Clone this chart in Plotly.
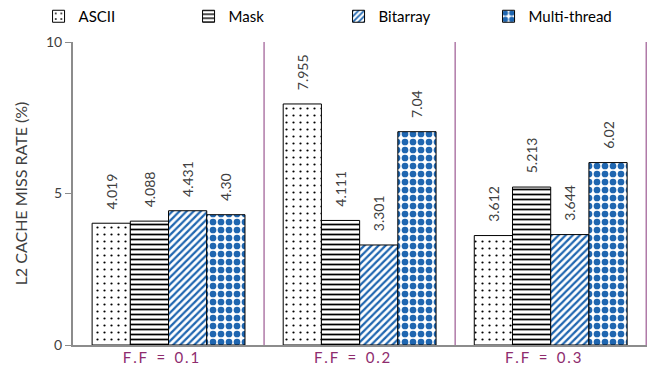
import plotly.graph_objects as go

categories = ["F.F = 0.1", "F.F = 0.2", "F.F = 0.3"]
series_names = ["ASCII", "Mask", "Bitarray", "Multi-thread"]
ascii_vals = [4.019, 7.955, 3.612]
mask_vals = [4.088, 4.111, 5.213]
bitarray_vals = [4.431, 3.301, 3.644]
multithread_vals = [4.30, 7.04, 6.02]
ascii_text = ["4.019", "7.955", "3.612"]
mask_text = ["4.088", "4.111", "5.213"]
bitarray_text = ["4.431", "3.301", "3.644"]
multithread_text = ["4.30", "7.04", "6.02"]
y_ticks = [0, 5, 10]

FONT = "Lato, 'Open Sans', sans-serif"
BLUE = "#1F66B0"

styles = [
    dict(shape=".", fgcolor="#000000", bgcolor="#FFFFFF", size=7, solidity=0.08),
    dict(shape="-", fgcolor="#000000", bgcolor="#FFFFFF", size=5, solidity=0.35),
    dict(shape="/", fgcolor=BLUE, bgcolor="#FFFFFF", size=5, solidity=0.45),
    dict(shape=".", fgcolor=BLUE, bgcolor="#FFFFFF", size=8, solidity=0.55),
]
values = [ascii_vals, mask_vals, bitarray_vals, multithread_vals]
texts = [ascii_text, mask_text, bitarray_text, multithread_text]

# spaced-out category labels as in the reference
tick_labels = ["\u2009".join(c.replace(" ", "")).replace("=", "\u2002=\u2002") + "\u2002\u2002"
               for c in categories]

fig = go.Figure()
for name, vals, txt, st in zip(series_names, values, texts, styles):
    fig.add_trace(go.Bar(
        name=name, x=categories, y=vals, text=txt,
        texttemplate="\u00a0\u00a0\u00a0%{text}",
        textposition="outside", textangle=-90, constraintext="none",
        textfont=dict(family=FONT, size=14, color="#404040"),
        cliponaxis=False,
        marker=dict(color="#FFFFFF", line=dict(color="#000000", width=1),
                    pattern=dict(shape=st["shape"], fgcolor=st["fgcolor"],
                                 bgcolor=st["bgcolor"], size=st["size"],
                                 solidity=st["solidity"], fillmode="replace")),
    ))

shapes = []
for i in range(len(categories)):
    shapes.append(dict(type="line", xref="x", yref="y", x0=i + 0.5, x1=i + 0.5,
                       y0=0, y1=y_ticks[-1], line=dict(color="#B07AA8", width=1.5)))
fig.update_layout(shapes=shapes)

fig.update_layout(
    width=657, height=376,
    margin=dict(l=73, r=10, t=42, b=31, autoexpand=False),
    paper_bgcolor="white", plot_bgcolor="white",
    barmode="group", bargap=0.2, bargroupgap=0,
    font=dict(family=FONT, color="#404040"),
    showlegend=True,
    legend=dict(orientation="h", x=-0.06, xanchor="left", y=1.1386, yanchor="top",
                entrywidth=105, entrywidthmode="pixels",
                font=dict(family=FONT, size=15, color="#000000"),
                bgcolor="rgba(0,0,0,0)"),
    xaxis=dict(showline=True, linecolor="#8C8C8C", linewidth=2, ticks="",
               tickvals=categories, ticktext=tick_labels, ticklabelstandoff=-2,
               tickfont=dict(family=FONT, size=15, color="#8E2C6E"),
               showgrid=False, zeroline=False),
    yaxis=dict(range=[0, 10], tickvals=y_ticks, ticks="outside", ticklen=6,
               tickcolor="#8C8C8C", showline=True, linecolor="#8C8C8C", linewidth=2,
               showgrid=False, zeroline=False,
               tickfont=dict(family=FONT, size=14, color="#404040"),
               title=dict(text="L2 CACHE MISS RATE (%)", standoff=14,
                          font=dict(family=FONT, size=16, color="#404040"))),
)

fig.write_html("out.html", config={"displayModeBar": False},
               post_script="document.body.style.margin='0';")
